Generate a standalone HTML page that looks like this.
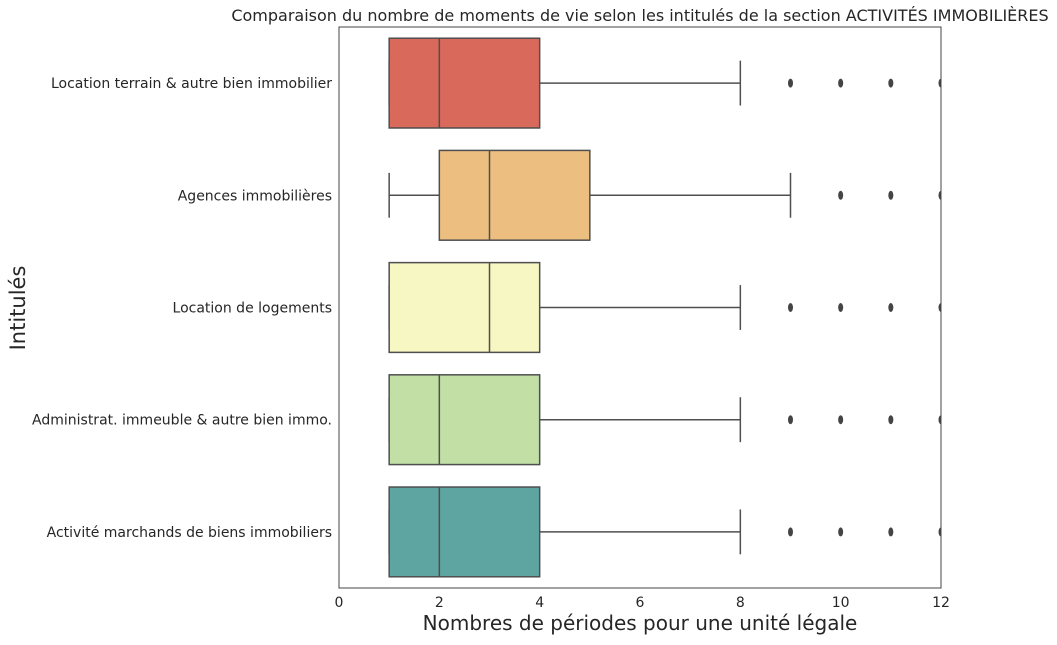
<!DOCTYPE html>
<html><head><meta charset="utf-8"><style>
body{margin:0;background:#fff;font-family:"Liberation Sans","DejaVu Sans",sans-serif;}
</style></head><body>
<svg id="chart" width="1057" height="640" xmlns="http://www.w3.org/2000/svg" font-family="DejaVu Sans, Liberation Sans, sans-serif">
<text x="640" y="21" text-anchor="middle" font-size="16" fill="#262626">Comparaison du nombre de moments de vie selon les intitulés de la section ACTIVITÉS IMMOBILIÈRES</text>
<text x="640" y="630" text-anchor="middle" font-size="20" fill="#262626">Nombres de périodes pour une unité légale</text>
<text transform="translate(25,308) rotate(-90)" text-anchor="middle" font-size="21" fill="#262626">Intitulés</text>
<g id="plot"></g>
</svg>
<script>
const categories=["Location terrain & autre bien immobilier","Agences immobilières","Location de logements","Administrat. immeuble & autre bien immo.","Activité marchands de biens immobiliers"];
const whiskLo=[1,1,1,1,1];
const q1=[1,2,1,1,1];
const med=[2,3,3,2,2];
const q3=[4,5,4,4,4];
const whiskHi=[8,9,8,8,8];
const fliers=[[9,10,11,12],[10,11,12],[9,10,11,12],[9,10,11,12],[9,10,11,12]];
const colors=["#d9695a","#ecbf81","#f7f7c4","#c2dfa6","#5ea5a2"];
const xTicks=[0,2,4,6,8,10,12];
const L=339,R=941,T=27,B=588,xMax=12;
const x=v=>L+(R-L)*v/xMax;
const band=(B-T)/categories.length;
const yc=i=>T+band*(i+0.5);
const NS="http://www.w3.org/2000/svg";
const g=document.getElementById('plot');
function mk(tag,attrs){const e=document.createElementNS(NS,tag);for(const k in attrs)e.setAttribute(k,attrs[k]);g.appendChild(e);return e;}
const frame=mk('rect',{x:L,y:T,width:R-L,height:B-T,fill:'none',stroke:'#444','stroke-width':1});


const cp=mk('clipPath',{id:'cp'});cp.appendChild(document.createElementNS(NS,'rect'));
cp.firstChild.setAttribute('x',L);cp.firstChild.setAttribute('y',T);cp.firstChild.setAttribute('width',R-L);cp.firstChild.setAttribute('height',B-T);
const lc='#4f4f4f',bh=band*0.8;
categories.forEach((c,i)=>{
  const y=yc(i);
  const w1=mk('line',{x1:x(whiskLo[i]),x2:x(q1[i]),y1:y,y2:y,stroke:lc,'stroke-width':1.5});
  
  
  const w2=mk('line',{x1:x(q3[i]),x2:x(whiskHi[i]),y1:y,y2:y,stroke:lc,'stroke-width':1.5});
  
  
  const c1=mk('line',{x1:x(whiskLo[i]),x2:x(whiskLo[i]),y1:y-bh/4,y2:y+bh/4,stroke:lc,'stroke-width':1.5});
  
  
  const c2=mk('line',{x1:x(whiskHi[i]),x2:x(whiskHi[i]),y1:y-bh/4,y2:y+bh/4,stroke:lc,'stroke-width':1.5});
  
  
  const b=mk('rect',{x:x(q1[i]),y:y-bh/2,width:x(q3[i])-x(q1[i]),height:bh,fill:colors[i],stroke:lc,'stroke-width':1.5});
  
  
  const m=mk('line',{x1:x(med[i]),x2:x(med[i]),y1:y-bh/2,y2:y+bh/2,stroke:lc,'stroke-width':1.5});
  
  
  fliers[i].forEach(f=>{
    const e=mk('ellipse',{cx:x(f),cy:y,rx:2.5,ry:4.5,fill:'#444','clip-path':'url(#cp)'});
    
    
  });
  const t=mk('text',{x:L-7,y:y+5,'text-anchor':'end','font-size':14,fill:'#262626'});
  t.textContent=c;
  
  
});
xTicks.forEach(v=>{
  const t=mk('text',{x:x(v),y:607,'text-anchor':'middle','font-size':14,fill:'#262626'});
  t.textContent=v;
  
  
});
</script>
</body></html>
